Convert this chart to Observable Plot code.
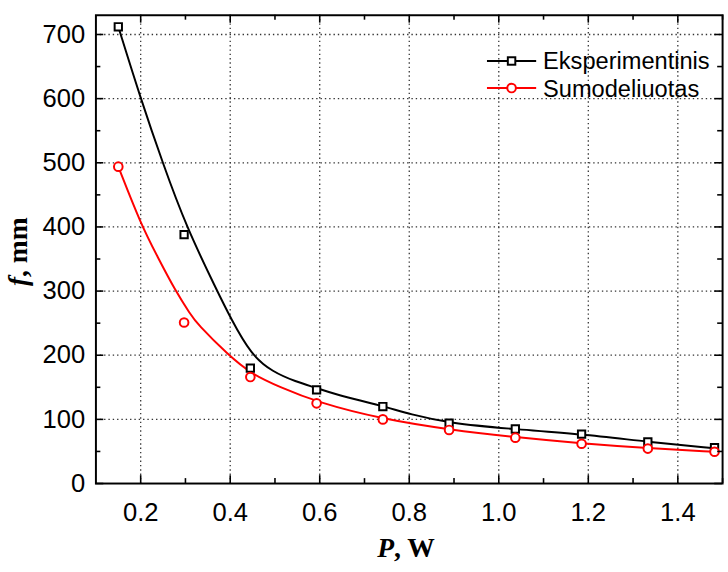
<!DOCTYPE html>
<html><head><meta charset="utf-8">
<script src="https://cdn.jsdelivr.net/npm/d3@7"></script>
<script src="https://cdn.jsdelivr.net/npm/@observablehq/plot@0.6"></script>
<style>
html,body{margin:0;padding:0;overflow:hidden;background:#fff;width:728px;height:572px}
#chart svg{display:block}
</style>
</head><body><div id="chart"></div>
<script>
// Measured points
const P = [0.15, 0.297, 0.445, 0.593, 0.741, 0.889, 1.037, 1.185, 1.333, 1.482];
const fExp = [712, 388, 180, 146, 120, 94, 85, 77, 65, 56];
const fSim = [494, 251, 166, 125, 100, 83.5, 71.5, 62, 54.5, 49.5];
// Fitted curves
const expFitP = [0.15, 0.2, 0.249, 0.302, 0.371, 0.4, 0.447, 0.495, 0.546, 0.593, 0.634, 0.74, 0.802, 0.89, 1.03, 1.185, 1.333, 1.482];
const expFitF = [712, 600, 500, 400, 300, 259, 200, 174, 159, 149, 139, 121, 108, 94, 85, 77, 65, 55];
const simFitP = [0.15, 0.2, 0.238, 0.278, 0.311, 0.326, 0.396, 0.447, 0.509, 0.593, 0.74, 0.89, 1.038, 1.185, 1.333, 1.482];
const simFitF = [494, 405, 353, 300, 264, 249, 200, 171, 151, 127, 100.5, 84, 72, 62.5, 55, 49.5];
// Ticks
const xMajor = [0.2, 0.4, 0.6, 0.8, 1.0, 1.2, 1.4];
const xMinor = [0.3, 0.5, 0.7, 0.9, 1.1, 1.3, 1.5];
const yMajor = [0, 100, 200, 300, 400, 500, 600, 700];
const yMinor = [50, 150, 250, 350, 450, 550, 650];
const seriesNames = ["Eksperimentinis", "Sumodeliuotas"];
const seriesColors = ["#000000", "#ff0000"];

const pts = (xs, ys) => xs.map((x, i) => ({x, y: ys[i]}));
const expPts = pts(P, fExp), simPts = pts(P, fSim);
const expFit = pts(expFitP, expFitF), simFit = pts(simFitP, simFitF);

const W = 740, H = 572, mL = 97, mR = 6, mT = 15, mB = 81;
const pw = W - mL - mR, ph = H - mT - mB;
const serif = "'Liberation Serif', 'Times New Roman', serif";
const tickStyle = {stroke: "#000", strokeWidth: 1.6};
const titleSize = 28;

const chart = Plot.plot({
  width: W, height: H,
  marginLeft: mL, marginRight: mR, marginTop: mT, marginBottom: mB,
  style: {fontFamily: "'Liberation Sans', Arial, sans-serif", fontSize: "26px", color: "#000", background: "#fff"},
  x: {domain: [0.1, 1.5]},
  y: {domain: [0, 730]},
  marks: [
    Plot.ruleX(xMajor, {stroke: "#333", strokeWidth: 1.3, strokeDasharray: "1.4,3"}),
    Plot.ruleY(yMajor.filter(d => d > 0), {stroke: "#333", strokeWidth: 1.3, strokeDasharray: "1.4,3"}),
    Plot.line(expFit, {x: "x", y: "y", stroke: seriesColors[0], strokeWidth: 2, curve: "basis"}),
    Plot.line(simFit, {x: "x", y: "y", stroke: seriesColors[1], strokeWidth: 2, curve: "basis"}),
    Plot.dot(expPts, {x: "x", y: "y", symbol: "square", r: 4.2, stroke: seriesColors[0], strokeWidth: 2, fill: "#fff"}),
    Plot.dot(simPts, {x: "x", y: "y", symbol: "circle", r: 4.4, stroke: seriesColors[1], strokeWidth: 2, fill: "#fff"}),
    Plot.frame({stroke: "#000", strokeWidth: 2}),
    // inward ticks
    Plot.tickX(xMajor, {insetTop: ph - 8, ...tickStyle}),
    Plot.tickX(xMinor, {insetTop: ph - 5, ...tickStyle}),
    Plot.tickX(xMajor, {insetBottom: ph - 8, ...tickStyle}),
    Plot.tickX(xMinor, {insetBottom: ph - 5, ...tickStyle}),
    Plot.tickY(yMajor, {insetRight: pw - 8, ...tickStyle}),
    Plot.tickY(yMinor, {insetRight: pw - 5, ...tickStyle}),
    Plot.tickY(yMajor, {insetLeft: pw - 8, ...tickStyle}),
    Plot.tickY(yMinor, {insetLeft: pw - 5, ...tickStyle}),
    Plot.axisX(xMajor, {tickSize: 0, tickPadding: 20, tickFormat: d => d.toFixed(1), label: null}),
    Plot.axisY(yMajor, {tickSize: 0, tickPadding: 11, tickFormat: d => String(d), label: null}),
    // axis titles
    Plot.text(["P"], {frameAnchor: "bottom", lineAnchor: "middle", text: d => d, textAnchor: "end", dx: -15.5, dy: 66, fontFamily: serif, fontWeight: "bold", fontStyle: "italic", fontSize: titleSize, fill: "#000"}),
    Plot.text([", W"], {frameAnchor: "bottom", lineAnchor: "middle", text: d => d, textAnchor: "start", dx: -15.5, dy: 66, fontFamily: serif, fontWeight: "bold", fontSize: titleSize, fill: "#000"}),
    Plot.text(["f"], {frameAnchor: "left", lineAnchor: "middle", text: d => d, rotate: -90, textAnchor: "end", dx: -79, dy: 28, fontFamily: serif, fontWeight: "bold", fontStyle: "italic", fontSize: titleSize, fill: "#000"}),
    Plot.text([", mm"], {frameAnchor: "left", lineAnchor: "middle", text: d => d, rotate: -90, textAnchor: "start", dx: -79, dy: 28, fontFamily: serif, fontWeight: "bold", fontSize: titleSize, fill: "#000"})
  ]
});
document.getElementById("chart").appendChild(chart);

// Legend inside the plot area (upper right)
const svg = d3.select(chart);
const lg = svg.append("g").attr("class", "legend");
const rows = [62, 89.5];
seriesNames.forEach((name, i) => {
  const y = rows[i];
  const g = lg.append("g");
  g.append("line").attr("x1", 495).attr("x2", 545).attr("y1", y).attr("y2", y)
    .attr("stroke", seriesColors[i]).attr("stroke-width", 2);
  if (i === 0) {
    g.append("rect").attr("x", 516.2).attr("y", y - 3.8).attr("width", 7.6).attr("height", 7.6)
      .attr("fill", "#fff").attr("stroke", seriesColors[i]).attr("stroke-width", 2);
  } else {
    g.append("circle").attr("cx", 520).attr("cy", y).attr("r", 4.4)
      .attr("fill", "#fff").attr("stroke", seriesColors[i]).attr("stroke-width", 2);
  }
  g.append("text").attr("x", 552).attr("y", y).attr("dy", "0.36em")
    .attr("text-anchor", "start")
    .attr("font-size", 24).attr("fill", "#000").text(name);
});
</script>
</body></html>
